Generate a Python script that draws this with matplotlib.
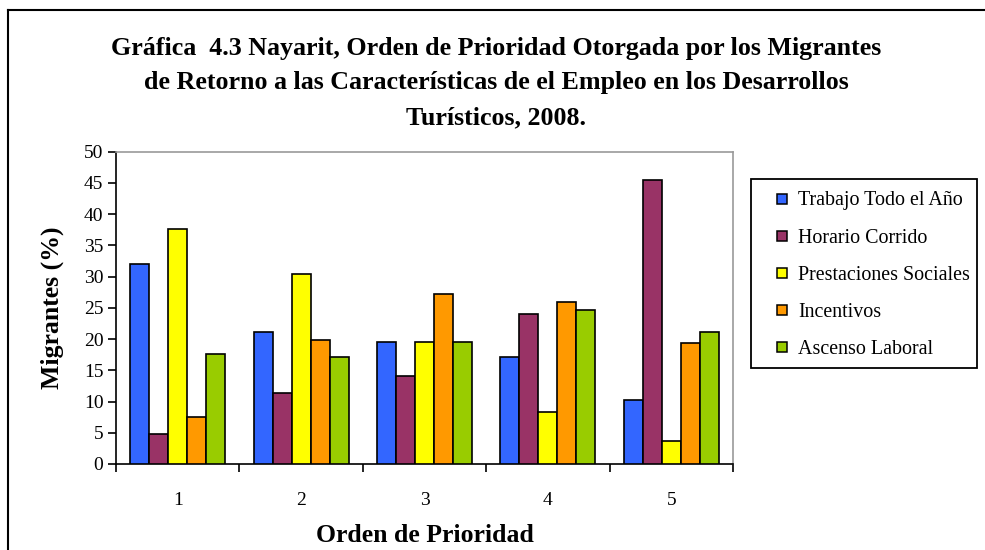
import matplotlib

matplotlib.use("Agg")
import matplotlib.pyplot as plt
import numpy as np
from matplotlib.lines import Line2D
from matplotlib.patches import Rectangle

plt.rcParams["font.family"] = ["Liberation Serif", "DejaVu Serif"]

categories = ["1", "2", "3", "4", "5"]
series_names = [
    "Trabajo Todo el Año",
    "Horario Corrido",
    "Prestaciones Sociales",
    "Incentivos",
    "Ascenso Laboral",
]
trabajo = [32.0, 21.1, 19.5, 17.1, 10.3]
horario = [4.8, 11.4, 14.1, 24.0, 45.4]
prestaciones = [37.7, 30.4, 19.5, 8.4, 3.7]
incentivos = [7.5, 19.8, 27.2, 26.0, 19.3]
ascenso = [17.6, 17.1, 19.5, 24.7, 21.2]
colors = ["#3366ff", "#993366", "#ffff00", "#ff9900", "#99cc00"]

title = ("Gráfica  4.3 Nayarit, Orden de Prioridad Otorgada por los Migrantes\n"
         "de Retorno a las Características de el Empleo en los Desarrollos\n"
         "Turísticos, 2008.")

W, H = 985, 550


def fx(px):
    return px / W


def fy(py):
    return 1 - py / H


fig = plt.figure(figsize=(9.85, 5.5), dpi=100, facecolor="white")
ax = fig.add_axes([fx(116), fy(464), fx(617), 312.3 / H])

values = [trabajo, horario, prestaciones, incentivos, ascenso]
x = np.arange(len(categories))
bw = 0.154
for i, (vals, col) in enumerate(zip(values, colors)):
    ax.bar(x + (i - 2) * bw, vals, width=bw, color=col, edgecolor="black",
           linewidth=1.2, zorder=3)

ax.set_xlim(-0.5, len(categories) - 0.5)
ax.set_ylim(0, 50)
ax.set_yticks(np.arange(0, 51, 5))
ax.set_xticks(x)
ax.set_xticklabels(categories)
ax.set_xticks(np.arange(-0.5, len(categories), 1.0), minor=True)
ax.tick_params(axis="x", which="major", length=0, pad=20, labelsize=14)
ax.tick_params(axis="x", which="minor", length=6, width=1.2, direction="out")
ax.tick_params(axis="y", length=6, width=1.2, direction="out", labelsize=14, pad=3)

for side in ("left", "bottom"):
    ax.spines[side].set_linewidth(1.2)
    ax.spines[side].set_color("black")
for side in ("top", "right"):
    ax.spines[side].set_linewidth(1.2)
    ax.spines[side].set_color("#999999")

ax.set_ylabel("Migrantes (%)", fontsize=18.5, fontweight="bold", labelpad=14)
ax.set_xlabel("Orden de Prioridad", fontsize=18.5, fontweight="bold", labelpad=11)

fig.text(fx(496), fy(83), title, ha="center", va="center",
         fontsize=18.7, fontweight="bold", linespacing=1.66)

# legend drawn by hand so the box matches the original spacing
fig.add_artist(Rectangle((fx(750.5), fy(368)), fx(977) - fx(750.5), fy(179) - fy(368),
                         transform=fig.transFigure, facecolor="white",
                         edgecolor="black", linewidth=1.3))
for k, (name, col) in enumerate(zip(series_names, colors)):
    yc = 198.5 + k * 37.2
    fig.add_artist(Rectangle((fx(777), fy(yc + 5)), fx(10), 10 / H,
                             transform=fig.transFigure, facecolor=col,
                             edgecolor="black", linewidth=1.1))
    fig.text(fx(798), fy(yc), name, ha="left", va="center_baseline", fontsize=14.4)

# outer chart border (left and top edges visible in the frame)
fig.add_artist(Line2D([fx(8), fx(8)], [0, fy(10)], color="black",
                      linewidth=1.5, transform=fig.transFigure))
fig.add_artist(Line2D([fx(8), 1], [fy(10), fy(10)], color="black",
                      linewidth=1.5, transform=fig.transFigure))

fig.savefig("out.png", dpi=100, facecolor="white")
